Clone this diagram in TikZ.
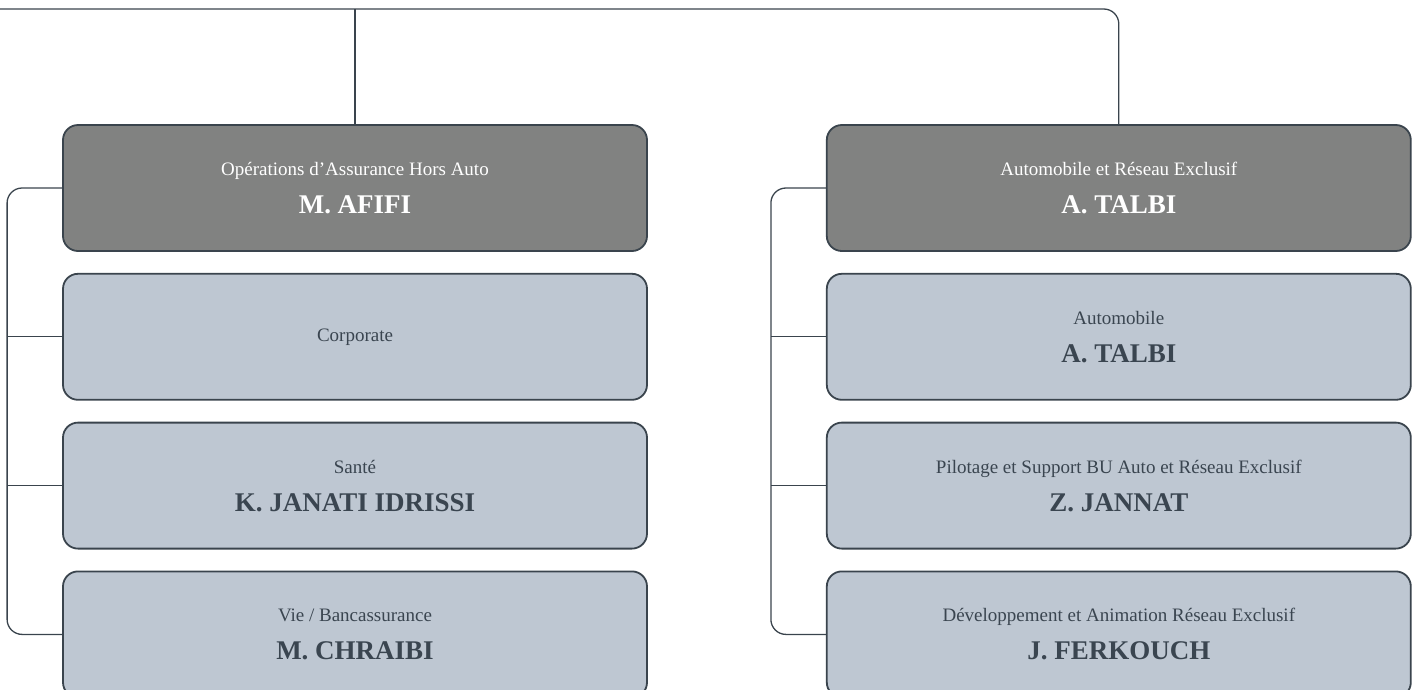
\documentclass[tikz,border=0pt]{standalone}
\usepackage{fontspec}
\setmainfont{Liberation Serif}
\usetikzlibrary{positioning}

\definecolor{headfill}{HTML}{818281}
\definecolor{unitfill}{HTML}{BEC7D2}
\definecolor{edgeline}{HTML}{3A444D}
\definecolor{inktext}{HTML}{3A4550}

\newcommand{\roletext}[1]{{\fontsize{19}{38}\selectfont #1}}
\newcommand{\whotext}[1]{{\fontsize{27}{38}\selectfont\bfseries #1}}

\begin{document}
\begin{tikzpicture}[x=1pt, y=-1pt, node distance=21pt,
		box/.style={rectangle, rounded corners=15pt, draw=edgeline, line width=1.8pt,
			minimum width=584pt, minimum height=126pt, inner sep=0pt, align=center,
			font=\fontsize{19}{38}\selectfont},
		head/.style={box, fill=headfill, text=white},
		unit/.style={box, fill=unitfill, text=inktext},
		link/.style={draw=edgeline, line width=1.3pt, rounded corners=15pt}]
		\useasboundingbox (0,0) rectangle (1418,689);
		\clip (0,0) rectangle (1418,689);

		\node[head] (afifi) at (355,188) {\roletext{Opérations d’Assurance Hors Auto}\\\whotext{M. AFIFI}};
		\node[unit, below=of afifi] (corporate) {\roletext{Corporate}};
		\node[unit, below=of corporate] (sante) {\roletext{Santé}\\\whotext{K. JANATI IDRISSI}};
		\node[unit, below=of sante] (vie) {\roletext{Vie / Bancassurance}\\\whotext{M. CHRAIBI}};

		\node[head, right=178pt of afifi] (talbi) {\roletext{Automobile et Réseau Exclusif}\\\whotext{A. TALBI}};
		\node[unit, below=of talbi] (auto) {\roletext{Automobile}\\\whotext{A. TALBI}};
		\node[unit, below=of auto] (pilotage) {\roletext{Pilotage et Support BU Auto et Réseau Exclusif}\\\whotext{Z. JANNAT}};
		\node[unit, below=of pilotage] (dev) {\roletext{Développement et Animation Réseau Exclusif}\\\whotext{J. FERKOUCH}};

		\coordinate (top) at (0,9);

		\path[link] (top) -| (talbi.north);
		\path[link] (afifi.north) -- (afifi.north |- top);

		\path[link] (afifi.west) -| ([xshift=-55pt]vie.west) -- (vie.west);
		\path[link] (corporate.west) -- ++(-55pt,0);
		\path[link] (sante.west) -- ++(-55pt,0);

		\path[link] (talbi.west) -| ([xshift=-55pt]dev.west) -- (dev.west);
		\path[link] (auto.west) -- ++(-55pt,0);
		\path[link] (pilotage.west) -- ++(-55pt,0);
	\end{tikzpicture}
\end{document}
